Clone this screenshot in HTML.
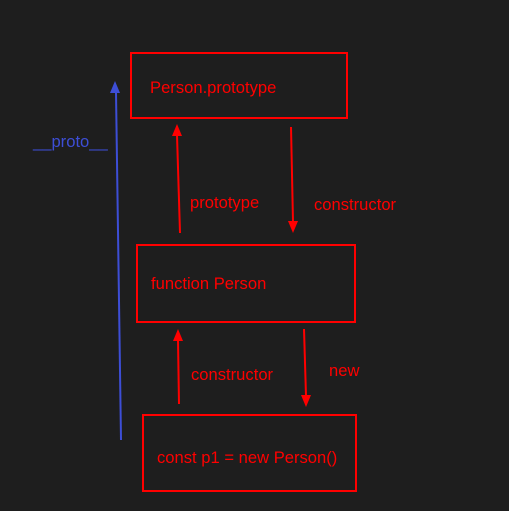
<!DOCTYPE html>
<html><head><style>
html,body{margin:0;padding:0;background:#1e1e1e;}
svg{display:block}
text{font-family:"Liberation Sans",sans-serif;font-size:16.6px;fill:#ff0000}
</style></head><body>
<svg width="509" height="511" viewBox="0 0 509 511">
<rect width="509" height="511" fill="#1e1e1e"/>
<g fill="none" stroke="#ff0000" stroke-width="2">
<rect x="131" y="53" width="216" height="65"/>
<rect x="137" y="245" width="218" height="77"/>
<rect x="143" y="415" width="213" height="76"/>
<line x1="180" y1="233" x2="177" y2="135"/>
<line x1="291" y1="127" x2="293" y2="222"/>
<line x1="179" y1="404" x2="178" y2="340"/>
<line x1="304" y1="329" x2="306" y2="396"/>
</g>
<g fill="#ff0000">
<polygon points="177,124 172,136 182,136"/>
<polygon points="293,233 288,221 298,221"/>
<polygon points="178,329 173,341 183,341"/>
<polygon points="306,407 301,395 311,395"/>
</g>
<line x1="121" y1="440" x2="116" y2="92" stroke="#3d4ed6" stroke-width="2"/>
<polygon points="115,81 110,93 120,93" fill="#3d4ed6"/>
<text x="150" y="93">Person.prototype</text>
<text x="190" y="208">prototype</text>
<text x="314" y="210">constructor</text>
<text x="151" y="289">function Person</text>
<text x="191" y="380">constructor</text>
<text x="329" y="376">new</text>
<text x="157" y="463">const p1 = new Person()</text>
<text x="33" y="147" style="fill:#3d4ed6">__proto__</text>
</svg>
</body></html>
